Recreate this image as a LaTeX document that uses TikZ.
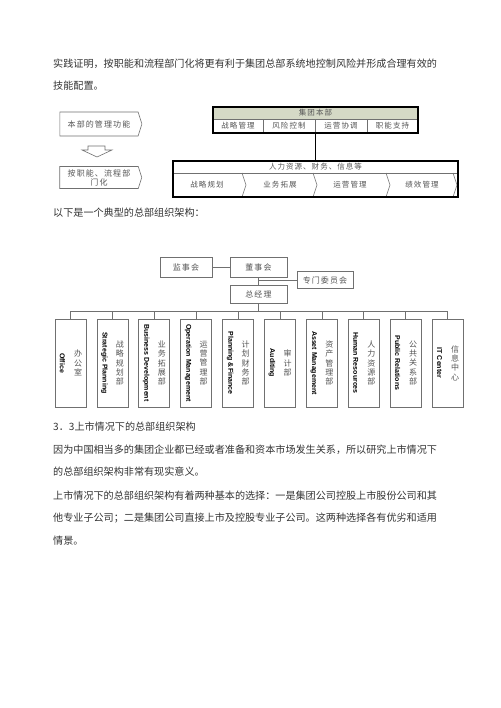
\documentclass[tikz,border=0pt]{standalone}
\usepackage{fontspec}
\setmainfont{Liberation Serif}
\newfontfamily\cjk{Noto Sans CJK SC}
\newfontfamily\cjkd[LetterSpace=14]{Noto Sans CJK SC}
\newfontfamily\arial{Liberation Sans}
\usetikzlibrary{shapes.symbols}
\definecolor{txt}{HTML}{333333}
\definecolor{lgray}{HTML}{555555}
\definecolor{bord}{HTML}{707070}
\definecolor{hdr}{HTML}{D5D9C6}
\begin{document}
\begin{tikzpicture}[x=1pt,y=-1pt,
  body/.style={anchor=west, inner sep=0pt, font=\cjk\fontsize{10.1}{12}\selectfont, text=txt},
  sig/.style={signal, signal to=east, signal pointer angle=145, draw=bord, line width=0.6pt,
    inner sep=0pt, text=lgray, font=\cjkd\fontsize{8}{9}\selectfont, align=center},
  cell/.style={draw=bord, line width=0.5pt, inner sep=0pt, font=\cjkd\fontsize{7.5}{9}\selectfont, text=lgray},
  tcell/.style={inner sep=0pt, font=\cjkd\fontsize{7.5}{9}\selectfont, text=lgray},
  outer/.style={draw=black, line width=1.1pt, inner sep=0pt},
  obox/.style={draw=bord, line width=0.7pt, inner sep=0pt, font=\cjkd\fontsize{8}{9}\selectfont, text=lgray},
  conn/.style={draw=bord, line width=0.7pt},
  eng/.style={rotate=-90, inner sep=0pt, font=\arial\bfseries\fontsize{7}{8}\selectfont, text=black},
  chn/.style={inner sep=0pt, align=center, font=\cjk\fontsize{8}{9.4}\selectfont, text=lgray}
]
\useasboundingbox (0,0) rectangle (500,708);
\fill[white] (0,0) rectangle (500,708);

% body text
\node[body] (t1) at (53,64) {实践证明，按职能和流程部门化将更有利于集团总部系统地控制风险并形成合理有效的};
\node[body] (t2) at (53,86) {技能配置。};
\node[body] (t3) at (53,213) {以下是一个典型的总部组织架构：};
\node[body] (t4) at (53,427) {3．3上市情况下的总部组织架构};
\node[body] (t5) at (53,450) {因为中国相当多的集团企业都已经或者准备和资本市场发生关系，所以研究上市情况下};
\node[body] (t6) at (53,472) {的总部组织架构非常有现实意义。};
\node[body] (t7) at (53,496) {上市情况下的总部组织架构有着两种基本的选择：一是集团公司控股上市股份公司和其};
\node[body] (t8) at (53,518) {他专业子公司；二是集团公司直接上市及控股专业子公司。这两种选择各有优劣和适用};
\node[body] (t9) at (53,541) {情景。};

% top-left flow
\node[sig, minimum width=82pt, minimum height=24pt] (f1) at (99,124) {本部的管理功能};
\draw[bord, line width=0.6pt, fill=white] (88,146) -- (105,146) -- (105,150) -- (112,150) -- (97,157) -- (82,150) -- (88,150) -- cycle;
\node[sig, minimum width=82pt, minimum height=22pt] (f2) at (99,177.5) {按职能、流程部\\门化};

% top table
\node[cell, fill=hdr, minimum width=205pt, minimum height=12pt] (th) at (315.5,113) {集团本部};
\node[cell, minimum width=50pt, minimum height=14pt] (c1) at (238,126) {战略管理};
\node[cell, minimum width=52pt, minimum height=14pt] (c2) at (289,126) {风险控制};
\node[cell, minimum width=52pt, minimum height=14pt] (c3) at (341,126) {运营协调};
\node[cell, minimum width=51pt, minimum height=14pt] (c4) at (392.5,126) {职能支持};
\node[outer, minimum width=205pt, minimum height=26pt] (tt) at (315.5,120) {};

% lower table
\node[cell, minimum width=285pt, minimum height=12pt] (lh) at (315.5,167) {人力资源、财务、信息等};
\node[tcell] (d1) at (207,185) {战略规划};
\node[tcell] (d2) at (280,185) {业务拓展};
\node[tcell] (d3) at (350,185) {运营管理};
\node[tcell] (d4) at (422,185) {绩效管理};
\foreach \x in {242,313,386,453}{
  \draw[bord, line width=0.5pt] (\x,173) -- (\x+4,185) -- (\x,197);
}
\node[outer, minimum width=285pt, minimum height=36pt] (lt) at (315.5,179) {};
\draw[black, line width=1.1pt] (tt.south) -- (lt.north);

% org chart
\node[obox, minimum width=52pt, minimum height=20pt] (jsh) at (186,267) {监事会};
\node[obox, minimum width=57pt, minimum height=20pt] (dsh) at (258.5,267) {董事会};
\node[obox, minimum width=56pt, minimum height=17pt] (zmw) at (325,280) {专门委员会};
\node[obox, minimum width=57pt, minimum height=18pt] (zjl) at (258.5,294) {总经理};
\draw[conn] (jsh) -- (dsh);
\draw[conn] (dsh) -- (zjl);
\coordinate (br) at (258.5,280);
\draw[conn] (br) -- (zmw.west);
\coordinate (bus) at (258.5,311);
\draw[conn] (zjl.south) -- (bus);

\foreach \i/\e/\c in {
  1/{Office}/{办\\公\\室},
  2/{Strategic Planning}/{战\\略\\规\\划\\部},
  3/{Business Development}/{业\\务\\拓\\展\\部},
  4/{Operation Management}/{运\\营\\管\\理\\部},
  5/{Planning \&Finance}/{计\\划\\财\\务\\部},
  6/{Auditing}/{审\\计\\部},
  7/{Asset Management}/{资\\产\\管\\理\\部},
  8/{Human Resources}/{人\\力\\资\\源\\部},
  9/{Public Relations}/{公\\共\\关\\系\\部},
  10/{IT Center}/{信\\息\\中\\心}}{
  \pgfmathsetmacro{\cx}{55+41.9*(\i-1)+15.5}
  \node[draw=bord, line width=0.7pt, minimum width=31pt, minimum height=88pt, inner sep=0pt] (b\i) at (\cx,363) {};
  \node[eng] (e\i) at (\cx-8,363) {\e};
  \node[chn] (z\i) at (\cx+7.5,363) {\c};
  \draw[conn] (b\i.north) |- (bus);
}
\end{tikzpicture}
\end{document}
